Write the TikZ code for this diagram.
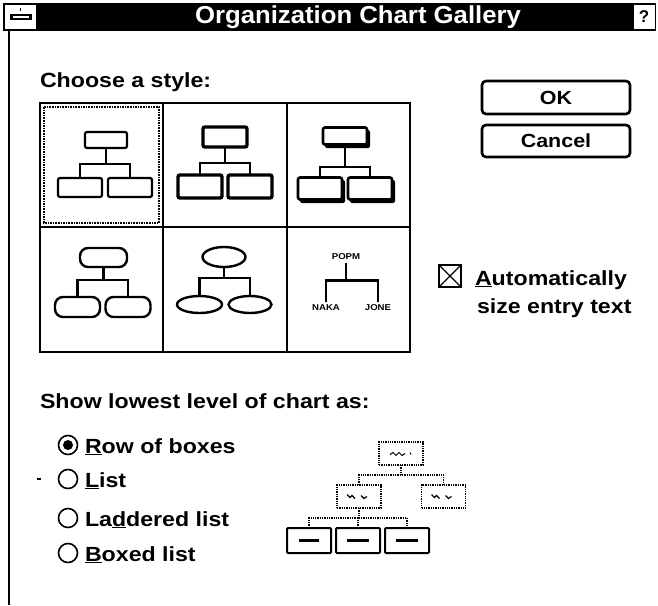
\documentclass[tikz,border=0pt]{standalone}
\usepackage{fontspec}
\setmainfont{Liberation Sans}
\newfontfamily\titlefont{Liberation Sans}[FakeStretch=1.05]
\newfontfamily\dlgfont{Liberation Sans}[FakeStretch=1.13]
\usetikzlibrary{calc,shapes.geometric}

% org-chart connector: top node #1, children #2 and #3, bus at fraction #4
\newcommand\orgtree[4]{%
  \coordinate (#1-j) at ($(#1.south)!#4!(#1.south |- #2.north)$);
  \draw[link] (#1.south) -- (#1-j);
  \draw[link] (#2.north) |- (#1-j) -| (#3.north);
}

\begin{document}
\begin{tikzpicture}[x=1pt,y=-1pt,
  every node/.style={inner sep=0pt, outer sep=0pt},
  txt/.style={anchor=base west, font=\dlgfont\fontsize{20.5}{22}\selectfont\bfseries},
  link/.style={line width=2.4pt},
  frame/.style={line width=2.6pt},
  boxA/.style={draw, line width=2.2pt, rounded corners=2pt},
  boxB/.style={draw, line width=3.4pt, rounded corners=2pt},
  boxC/.style={draw, fill=white, line width=2.6pt, rounded corners=2pt},
  boxD/.style={draw, line width=2.4pt, rounded corners=8pt},
  ovalE/.style={draw, ellipse, line width=2.4pt},
  mini/.style={font=\dlgfont\fontsize{8.5}{9}\selectfont\bfseries, outer sep=3pt},
  button/.style={draw, line width=2.6pt, rounded corners=4pt,
    minimum width=148pt, font=\dlgfont\fontsize{19}{21}\selectfont\bfseries},
  radio/.style={draw, circle, line width=1.6pt, minimum size=19pt},
  dotbox/.style={draw, line width=1.3pt, densely dotted, minimum width=44pt, minimum height=23pt},
  solidbox/.style={draw, line width=2pt, rounded corners=1pt, minimum width=44pt, minimum height=25pt},
  dotlink/.style={line width=1.3pt, densely dotted},
]
\useasboundingbox (0,0) rectangle (658,605);
\fill[white] (0,0) rectangle (658,605);

% ---- title bar ----
\fill (3,3) rectangle (656,31);
\node[fill=white, minimum width=31pt, minimum height=24pt] (ctrl) at (20.5,17) {};
\fill ($(ctrl.center)+(-11,-3)$) rectangle ($(ctrl.center)+(11,3)$);
\fill[white] ($(ctrl.center)+(-8,-1)$) rectangle ($(ctrl.center)+(8,1)$);
\fill ($(ctrl.center)+(-0.8,-9)$) rectangle ($(ctrl.center)+(0.8,-6)$);
\node[fill=white, minimum width=21pt, minimum height=24pt,
  font=\fontsize{17}{20}\selectfont\bfseries] (help) at (644,17) {?};
\node[text=white, font=\titlefont\fontsize{24.5}{26}\selectfont\bfseries] (title) at (358,17)
  {Organization Chart Gallery};

% dialog left edge
\draw[line width=2pt] (9,31) -- (9,605);

% ---- style gallery ----
\node[txt] (choose) at (40,87) {Choose a style:};

\draw[frame] (40,103) rectangle (410,352);
\draw[frame] (163,103) -- (163,352);
\draw[frame] (287,103) -- (287,352);
\draw[frame] (40,227) -- (410,227);
\draw[line width=1.6pt, densely dotted] (44,107) rectangle (159,223);

% cell 1: plain boxes
\node[boxA, minimum width=42pt, minimum height=16pt] (a1) at (106,140) {};
\node[boxA, minimum width=44pt, minimum height=19pt] (b1) at (80,187.5) {};
\node[boxA, minimum width=44pt, minimum height=19pt] (c1) at (130,187.5) {};
\orgtree{a1}{b1}{c1}{0.53}

% cell 2: heavy boxes
\node[boxB, minimum width=44pt, minimum height=20pt] (a2) at (225,137) {};
\node[boxB, minimum width=44pt, minimum height=23pt] (b2) at (200,186.5) {};
\node[boxB, minimum width=44pt, minimum height=23pt] (c2) at (250,186.5) {};
\orgtree{a2}{b2}{c2}{0.57}

% cell 3: shadowed boxes
\fill[rounded corners=2pt] (325,130) rectangle (370,148);
\fill[rounded corners=2pt] (300,180) rectangle (345,203);
\fill[rounded corners=2pt] (350,180) rectangle (395,203);
\node[boxC, minimum width=44pt, minimum height=17pt] (a3) at (345,136) {};
\node[boxC, minimum width=44pt, minimum height=22pt] (b3) at (320,188.5) {};
\node[boxC, minimum width=44pt, minimum height=22pt] (c3) at (370,188.5) {};
\orgtree{a3}{b3}{c3}{0.69}

% cell 4: rounded boxes
\node[boxD, minimum width=47pt, minimum height=19pt] (a4) at (103.5,257.5) {};
\node[boxD, minimum width=45pt, minimum height=20pt] (b4) at (77.5,307) {};
\node[boxD, minimum width=45pt, minimum height=20pt] (c4) at (128,307) {};
\orgtree{a4}{b4}{c4}{0.43}

% cell 5: ovals
\node[ovalE, minimum width=43pt, minimum height=20pt] (a5) at (224,257) {};
\node[ovalE, minimum width=45pt, minimum height=17pt] (b5) at (199.5,304.5) {};
\node[ovalE, minimum width=43pt, minimum height=17pt] (c5) at (250,304.5) {};
\orgtree{a5}{b5}{c5}{0.38}

% cell 6: names only
\node[mini] (a6) at (346,257) {POPM};
\node[mini] (b6) at (326,308) {NAKA};
\node[mini] (c6) at (378,308) {JONE};
\orgtree{a6}{b6}{c6}{0.45}

% ---- buttons ----
\node[button, minimum height=33pt] (ok) at (556,97.5) {OK};
\node[button, minimum height=32pt] (cancel) at (556,141) {Cancel};

% ---- check box ----
\node[draw, line width=1.5pt, minimum size=22pt] (chk) at (450,276) {};
\draw[line width=1.3pt] (chk.north west) -- (chk.south east)
  (chk.north east) -- (chk.south west);
\node[txt] (auto) at (475,285) {\underline{A}utomatically};
\node[txt] (size) at (477,313) {size entry text};

% ---- lowest level options ----
\node[txt] (show) at (40,408) {Show lowest level of chart as:};

\node[radio] (r1) at (68,445) {};
\node[radio] (r2) at (68,479) {};
\node[radio] (r3) at (68,518) {};
\node[radio] (r4) at (68,553) {};
\fill (r1) circle (5);
\draw[line width=1.6pt] (37,479) -- (41,479);
\node[txt] (l1) at (85,453) {\underline{R}ow of boxes};
\node[txt] (l2) at (85,487) {\underline{L}ist};
\node[txt] (l3) at (85,526) {La\underline{d}dered list};
\node[txt] (l4) at (85,561) {\underline{B}oxed list};

% ---- preview ----
\node[dotbox] (pt) at (401,453.5) {};
\node[dotbox] (pl) at (359,496.5) {};
\node[dotbox] (pr) at (443.5,496.5) {};
\node[solidbox] (q1) at (309,540.5) {\rule{20pt}{2.6pt}};
\node[solidbox] (q2) at (358,540.5) {\rule{22pt}{2.6pt}};
\node[solidbox] (q3) at (407,540.5) {\rule{22pt}{2.6pt}};

\coordinate (pj) at ($(pt.south)!0.5!(pt.south |- pl.north)$);
\draw[dotlink] (pt.south) -- (pj);
\draw[dotlink] (pl.north) |- (pj) -| (pr.north);
\coordinate (qj) at ($(pl.south)!0.5!(pl.south |- q1.north)$);
\draw[dotlink] (pl.south) -- (qj);
\draw[dotlink] (q1.north) |- (qj) -| (q3.north);
\draw[dotlink] (q2.north) -- (q2.north |- qj);

% scribbled entries in the preview boxes
\draw[line width=1pt] ($(pt.center)+(-11,1)$) -- ++(3,-2) -- ++(3,3) -- ++(3,-3) -- ++(3,3) -- ++(3,-2)
  ($(pt.center)+(9,-1)$) -- ++(1,2);
\draw[line width=1.2pt] ($(pl.center)+(-12,-2)$) -- ++(3,3) -- ++(2,-2) -- ++(3,3)
  ($(pl.center)+(2,-1)$) -- ++(3,3) -- ++(3,-2);
\draw[line width=1.2pt] ($(pr.center)+(-12,-2)$) -- ++(3,3) -- ++(2,-2) -- ++(3,3)
  ($(pr.center)+(2,-1)$) -- ++(3,3) -- ++(3,-2);
\end{tikzpicture}
\end{document}
